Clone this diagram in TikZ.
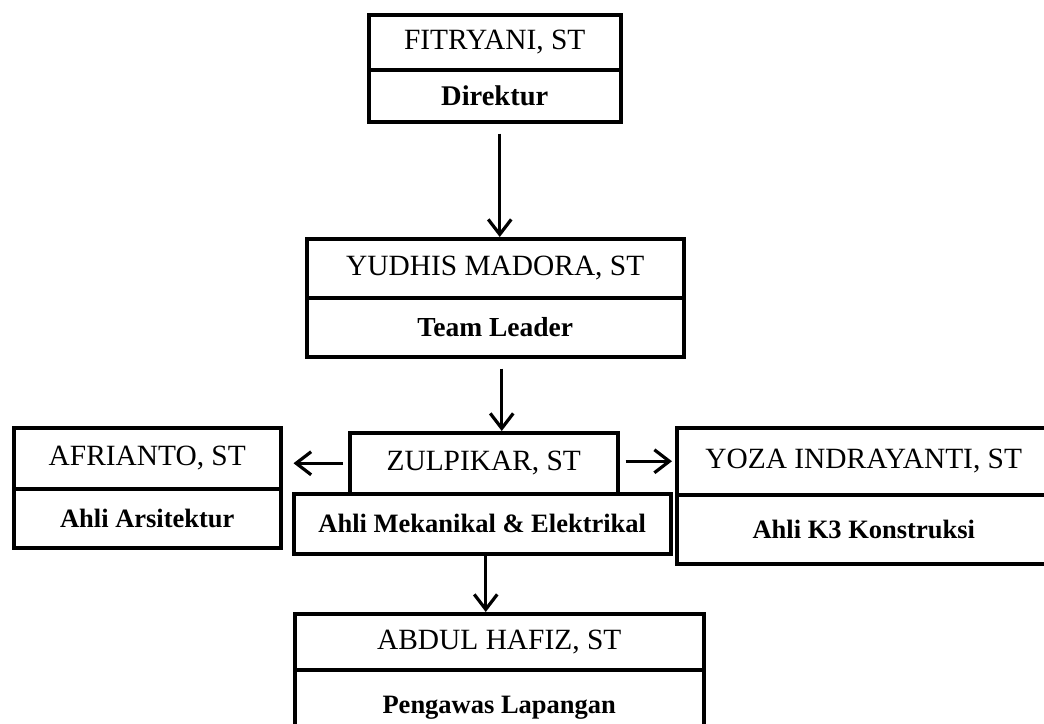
\documentclass[tikz,border=0pt]{standalone}
\usepackage{fontspec}
\setmainfont{Liberation Serif}
\usetikzlibrary{arrows.meta}
\begin{document}
\begin{tikzpicture}[x=1pt,y=-1pt,
  cell/.style={draw, line width=3.5pt, rectangle, anchor=north west, inner sep=0pt, align=center},
  nm/.style={cell, font=\fontsize{29.4}{35}\selectfont},
  rl/.style={cell, font=\bfseries\fontsize{26.5}{32}\selectfont},
  arr/.style={line width=3.2pt, -{Straight Barb[length=15pt,width=23pt,line width=3.2pt]}}]
\useasboundingbox (0,0) rectangle (1044,723);
\clip (0,0) rectangle (1044,723);
% Direktur
\node[nm, minimum width=252, minimum height=55] (fitt) at (367,13) {FITRYANI, ST};
\node[rl, minimum width=252, minimum height=52, font=\bfseries\fontsize{28.5}{34}\selectfont] (fitb) at (367,68) {Direktur};
% Team leader
\node[nm, minimum width=377, minimum height=59] (yudt) at (305,237) {YUDHIS MADORA, ST};
\node[rl, minimum width=377, minimum height=59, font=\bfseries\fontsize{27.5}{33}\selectfont] (yudb) at (305,296) {Team Leader};
% Zulpikar
\node[nm, minimum width=268, minimum height=61] (zult) at (348,431) {ZULPIKAR, ST};
\node[rl, minimum width=377, minimum height=60] (mekb) at (292,492) {Ahli Mekanikal \& Elektrikal};
% Afrianto
\node[nm, minimum width=267, minimum height=61] (afrt) at (12,426) {AFRIANTO, ST};
\node[rl, minimum width=267, minimum height=59] (afrb) at (12,487) {Ahli Arsitektur};
% Yoza
\node[nm, minimum width=374, minimum height=67] (yozt) at (675,426) {YOZA INDRAYANTI, ST};
\node[rl, minimum width=374, minimum height=69] (yozb) at (675,493) {Ahli K3 Konstruksi};
% Abdul
\node[nm, minimum width=409, minimum height=56] (abdt) at (293,612) {ABDUL HAFIZ, ST};
\node[rl, minimum width=409, minimum height=76] (abdb) at (293,668) {Pengawas Lapangan};
% connectors
\draw[arr] ([xshift=5pt,yshift=-10pt]fitb.south) -- ([xshift=5pt]fitb.south |- yudt.north);
\draw[arr] ([xshift=6.5pt,yshift=-10pt]yudb.south) -- ([xshift=6.5pt]yudb.south |- zult.north);
\draw[arr] ([xshift=-5pt]zult.west) -- ([xshift=11pt]afrt.east |- zult.west);
\draw[arr] ([xshift=6pt,yshift=2pt]zult.east) -- ([xshift=-3pt,yshift=2pt]yozt.west |- zult.east);
\draw[arr] ([xshift=3.5pt]mekb.south) -- ([xshift=3.5pt]mekb.south |- abdt.north);
\end{tikzpicture}
\end{document}
